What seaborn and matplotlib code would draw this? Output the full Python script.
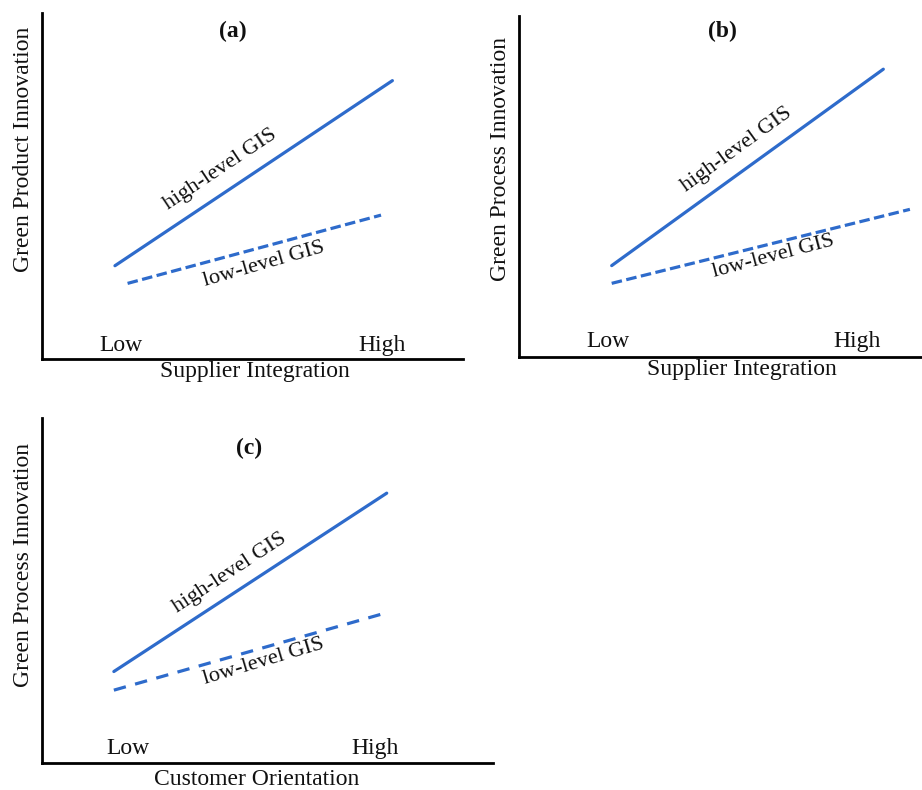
import matplotlib
matplotlib.use('Agg')
import matplotlib.pyplot as plt
import seaborn as sns
import numpy as np
import pandas as pd

# ---------------- data ----------------
panel_ids = ['(a)', '(b)', '(c)']
x_titles = ['Supplier Integration', 'Supplier Integration', 'Customer Orientation']
y_titles = ['Green Product Innovation', 'Green Process Innovation', 'Green Process Innovation']
tick_labels = ['Low', 'High']
series_names = ['high-level GIS', 'low-level GIS']

# line endpoints per panel (axis units 0-10)
high_x = [[1.74, 8.33], [2.30, 9.04], [1.60, 7.65]]
high_y = [[2.70, 8.04], [2.68, 8.44], [2.66, 7.83]]
low_x = [[2.04, 8.06], [2.30, 9.70], [1.60, 7.66]]
low_y = [[2.19, 4.16], [2.16, 4.33], [2.12, 4.37]]

# ---------------- layout ----------------
sns.set_theme(style='white')
plt.rcParams['font.family'] = ['Liberation Serif', 'DejaVu Serif']

W, H = 922, 790
fig = plt.figure(figsize=(W / 100, H / 100), dpi=100)

# pixel boxes (left, top, right, bottom)
boxes = [(41.7, 12.7, 462.7, 359.3), (519, 16, 922, 357), (41.7, 418.3, 492.7, 763.3)]
tick_pos_x = [[1.88, 8.08], [2.20, 8.38], [1.91, 7.39]]
tick_pos_y = [0.41, 0.45, 0.43]
title_pos = [(4.55, 9.45), (5.05, 9.54), (4.60, 9.13)]
hi_text_pos = [(4.25, 5.48), (5.40, 6.07), (4.18, 5.51)]
lo_text_pos = [(5.28, 2.73), (6.31, 2.94), (4.93, 2.94)]
xlab_coords = [(0.507, -0.036), (0.553, -0.038), (0.477, -0.046)]
ylab_coords = [(-0.0437, 0.607), (-0.047, 0.581), (-0.0408, 0.575)]
dash_patterns = [(3.3, 1.4), (3.3, 1.4), (3.9, 3.0)]

color = '#2E6BCB'
fs = 17

for i in range(3):
    l, t, r, b = boxes[i]
    ax = fig.add_axes([l / W, 1 - b / H, (r - l) / W, (b - t) / H])
    ax.set_xlim(0, 10)
    ax.set_ylim(0, 10)

    df_hi = pd.DataFrame({'x': high_x[i], 'y': high_y[i]})
    df_lo = pd.DataFrame({'x': low_x[i], 'y': low_y[i]})
    sns.lineplot(data=df_hi, x='x', y='y', ax=ax, color=color, linewidth=2.3)
    sns.lineplot(data=df_lo, x='x', y='y', ax=ax, color=color, linewidth=2.3)
    ax.lines[-1].set_dashes(dash_patterns[i])

    # angles in data units; matplotlib converts to screen angle
    ang_hi = np.degrees(np.arctan2(high_y[i][1] - high_y[i][0], high_x[i][1] - high_x[i][0]))
    ang_lo = np.degrees(np.arctan2(low_y[i][1] - low_y[i][0], low_x[i][1] - low_x[i][0]))
    ax.text(*hi_text_pos[i], series_names[0], fontsize=16, ha='center', va='center',
            rotation=ang_hi, transform_rotates_text=True, rotation_mode='anchor', color='#111111')
    ax.text(*lo_text_pos[i], series_names[1], fontsize=16, ha='center', va='center',
            rotation=ang_lo + 1.0, transform_rotates_text=True, rotation_mode='anchor', color='#111111')

    for lab, xp in zip(tick_labels, tick_pos_x[i]):
        ax.text(xp, tick_pos_y[i], lab, fontsize=fs, ha='center', va='center', color='#111111')

    ax.text(*title_pos[i], panel_ids[i], fontsize=fs, fontweight='bold', ha='center', va='center',
            color='#111111')

    ax.set_xticks([])
    ax.set_yticks([])
    ax.set_xlabel(x_titles[i], fontsize=fs, color='#111111')
    ax.set_ylabel(y_titles[i], fontsize=fs, color='#111111')
    ax.xaxis.set_label_coords(*xlab_coords[i])
    ax.yaxis.set_label_coords(*ylab_coords[i])
    ax.xaxis.label.set_va('center')
    ax.yaxis.label.set_va('center')

    sns.despine(ax=ax)
    for s in ['left', 'bottom']:
        ax.spines[s].set_color('black')
        ax.spines[s].set_linewidth(2.0)
    ax.set_facecolor('white')

fig.savefig('out.png', dpi=100, facecolor='white')
